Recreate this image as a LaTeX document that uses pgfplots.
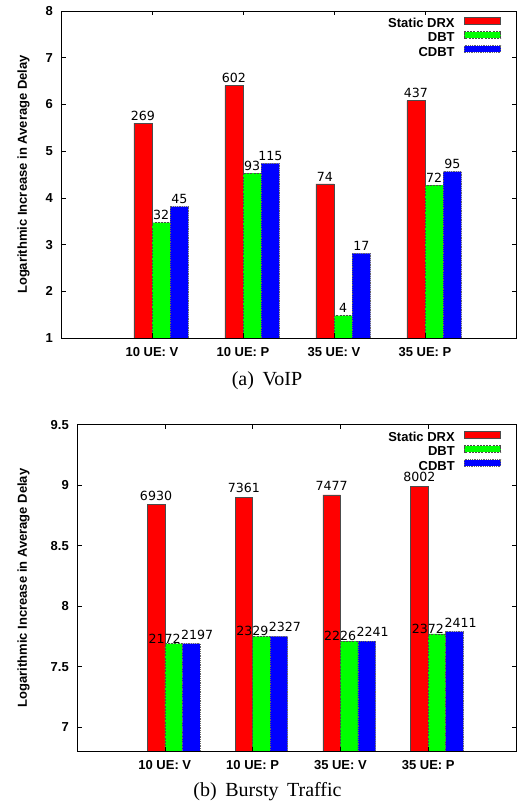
\documentclass[border=0pt]{standalone}
\usepackage{fontspec}
\setmainfont{Liberation Sans}
\newfontfamily\dejavu{DejaVu Sans}
\newfontfamily\serif{Liberation Serif}
\usepackage{pgfplots}
\pgfplotsset{compat=1.18}

\definecolor{gpred}{RGB}{255,0,0}
\definecolor{gpgreen}{RGB}{0,255,0}
\definecolor{gpblue}{RGB}{0,0,255}

\pgfplotsset{
  mylegend/.style={legend image code/.code={\draw[##1] (0bp,0.7bp) rectangle (36.7bp,7.3bp);}},
  gpaxis/.style={
    scale only axis,
    axis on top,
    xmin=-1, xmax=4,
    xtick={0,1,2,3},
    xticklabels={10 UE: V,10 UE: P,35 UE: V,35 UE: P},
    ybar, bar width=0.2,
    tick align=inside,
    major tick length=4.5bp,
    tick style={black, line width=0.6bp},
    axis line style={line width=0.8bp},
    /pgf/number format/assume math mode=true,
    tick label style={font=\fontsize{13bp}{15bp}\selectfont\bfseries},
    yticklabel style={inner sep=0pt, xshift=-8bp},
    xticklabel style={inner sep=0pt, yshift=-9bp},
    ylabel={Logarithmic Increase in Average Delay},
    ylabel style={font=\fontsize{13bp}{15bp}\selectfont\bfseries, anchor=center},
    legend plot pos=right,
    legend cell align=right,
    legend style={draw=none, fill=none, inner sep=0pt, outer sep=0pt, anchor=north east,
      font=\fontsize{13bp}{15bp}\selectfont\bfseries, row sep=0pt, column sep=9bp,
      nodes={inner sep=0pt, text height=9.5bp, text depth=3.5bp}},
    nodes near coords,
    point meta=explicit symbolic,
    nodes near coords style={font=\dejavu\fontsize{12.6bp}{14bp}\selectfont, inner sep=0pt, anchor=south},
  },
  redbar/.style={fill=gpred, draw=black!70, line width=0.6bp, solid, bar shift=-0.1, mylegend},
  greenbar/.style={fill=gpgreen, draw=black!70, line width=0.6bp, dash pattern=on 2bp off 1.2bp, bar shift=0.1, mylegend},
  bluebar/.style={fill=gpblue, draw=black!60, line width=0.6bp, dash pattern=on 0.8bp off 1bp, bar shift=0.3, mylegend},
}

\begin{document}
\begin{tikzpicture}
\path[use as bounding box] (0,0) rectangle (519bp,806bp);

% (a) VoIP
\begin{axis}[gpaxis,
  at={(61bp,468bp)}, anchor=south west, width=455bp, height=327bp,
  ymin=1, ymax=8, ytick={1,2,3,4,5,6,7,8},
  ylabel style={at={(axis description cs:-0.0824,0.5)}},
  legend style={at={(rel axis cs:0.967,0.981)}},
]
\addplot[redbar, nodes near coords style={yshift=2.3bp}] coordinates {(0,5.60)[269] (1,6.40)[602] (2,4.30)[74] (3,6.08)[437]};
\addplot[greenbar, nodes near coords style={yshift=2.3bp}] coordinates {(0,3.47)[32] (1,4.53)[93] (2,1.48)[4] (3,4.27)[72]};
\addplot[bluebar, nodes near coords style={yshift=2.3bp}] coordinates {(0,3.81)[45] (1,4.74)[115] (2,2.81)[17] (3,4.56)[95]};
\legend{Static DRX,DBT,CDBT}
\end{axis}

% (b) Bursty traffic
\begin{axis}[gpaxis,
  at={(77bp,54.7bp)}, anchor=south west, width=439bp, height=326.6bp,
  ymin=6.8, ymax=9.5, ytick={7,7.5,8,8.5,9,9.5},
  ylabel style={at={(axis description cs:-0.1219,0.5)}},
  legend style={at={(rel axis cs:0.966,0.980)}},
]
\addplot[redbar, nodes near coords style={yshift=4bp}] coordinates {(0,8.84)[6930] (1,8.90)[7361] (2,8.92)[7477] (3,8.99)[8002]};
\addplot[greenbar, nodes near coords style={xshift=-9bp, yshift=0bp}] coordinates {(0,7.69)[2172] (1,7.75)[2329] (2,7.71)[2226] (3,7.77)[2372]};
\addplot[bluebar, nodes near coords style={xshift=6bp, yshift=4bp}] coordinates {(0,7.69)[2197] (1,7.75)[2327] (2,7.71)[2241] (3,7.79)[2411]};
\legend{Static DRX,DBT,CDBT}
\end{axis}

\node[font=\serif\fontsize{20bp}{24bp}\selectfont, anchor=base] at (267bp,420bp) {(a)\hspace{8.5bp}VoIP};
\node[font=\serif\fontsize{20bp}{24bp}\selectfont, anchor=base] at (267.5bp,9.3bp) {(b)\hspace{8.5bp}Bursty\hspace{8.5bp}Traffic};
\end{tikzpicture}
\end{document}
